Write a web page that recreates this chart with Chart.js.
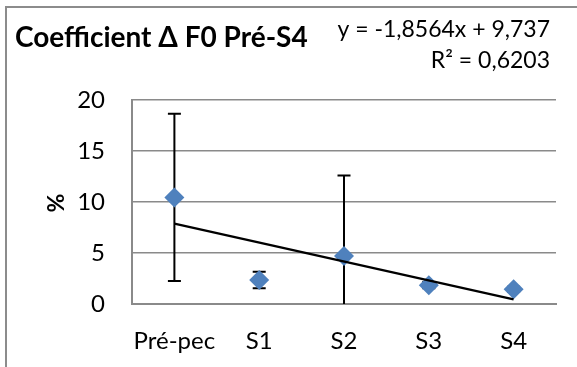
<!DOCTYPE html>
<html>
<head>
<meta charset="utf-8">
<script src="https://cdn.jsdelivr.net/npm/chart.js@4"></script>
<style>
  html, body { margin: 0; padding: 0; background: #fff; }
  #wrap { width: 577px; height: 367px; position: relative; }
</style>
</head>
<body>
<div id="wrap"><canvas id="chart" width="577" height="367"></canvas></div>
<script>
const categories = ['Pré-pec', 'S1', 'S2', 'S3', 'S4'];
const means = [10.45, 2.35, 4.7, 1.85, 1.45];
const errors = [8.2, 0.8, 7.9, 0.3, 0.25];

// linear trend (x = 1..5), as stated on the chart
const SLOPE = -1.8564;
const INTERCEPT = 9.737;
const R2 = 0.6203;

const FONT = 'Lato, "Open Sans", sans-serif';
const GRID = '#8a8a8a';

const fmt = (v) => String(v).replace('.', ',');
const trend = categories.map((c, i) =>
  (i === 0 || i === categories.length - 1) ? SLOPE * (i + 1) + INTERCEPT : null);

// frame, error bars, title and regression text
const decorPlugin = {
  id: 'decor',
  beforeDraw(chart) {
    const { ctx } = chart;
    ctx.save();
    ctx.strokeStyle = '#8c8c8c';
    ctx.lineWidth = 2;
    ctx.beginPath();
    ctx.moveTo(6, 367); ctx.lineTo(6, 7); ctx.lineTo(577, 7);
    ctx.stroke();
    ctx.restore();
  },
  beforeDatasetsDraw(chart) {
    const { ctx, chartArea: { left, top, right, bottom }, scales: { x, y } } = chart;
    ctx.save();
    ctx.beginPath();
    ctx.rect(left, top - 2, right - left, bottom - top + 2);
    ctx.clip();
    ctx.strokeStyle = '#000';
    ctx.lineWidth = 2;
    means.forEach((m, i) => {
      const px = x.getPixelForValue(i);
      const hi = y.getPixelForValue(m + errors[i]);
      const lo = y.getPixelForValue(m - errors[i]);
      ctx.beginPath();
      ctx.moveTo(px, hi); ctx.lineTo(px, lo);
      ctx.moveTo(px - 6.5, hi); ctx.lineTo(px + 6.5, hi);
      ctx.moveTo(px - 6.5, lo); ctx.lineTo(px + 6.5, lo);
      ctx.stroke();
    });
    ctx.restore();
  },
  afterDraw(chart) {
    const { ctx } = chart;
    ctx.save();
    ctx.fillStyle = '#000';
    ctx.textBaseline = 'alphabetic';

    ctx.font = 'bold 28px ' + FONT;
    ctx.textAlign = 'left';
    ctx.fillText('Coefficient Δ F0 Pré-S4', 15, 47);

    ctx.font = '23px ' + FONT;
    ctx.textAlign = 'right';
    ctx.fillText(`y = ${fmt(SLOPE)}x + ${fmt(INTERCEPT)}`, 550, 37);
    ctx.fillText(`R² = ${fmt(R2)}`, 550, 68);

    ctx.font = 'bold 23px ' + FONT;
    ctx.textAlign = 'center';
    ctx.textBaseline = 'middle';
    ctx.translate(57, 203);
    ctx.rotate(-Math.PI / 2);
    ctx.fillText('%', 0, 0);
    ctx.restore();
  },
};

new Chart(document.getElementById('chart'), {
  type: 'line',
  plugins: [decorPlugin],
  data: {
    labels: categories,
    datasets: [
      {
        label: 'Tendance',
        data: trend,
        spanGaps: true,
        borderColor: '#000',
        borderWidth: 2.2,
        pointRadius: 0,
        order: 0,
      },
      {
        label: 'Coefficient',
        data: means,
        showLine: false,
        pointStyle: 'rectRot',
        pointRadius: 10,
        pointBackgroundColor: '#4f81bd',
        pointBorderColor: '#4f81bd',
        pointBorderWidth: 0,
        order: 1,
      },
    ],
  },
  options: {
    responsive: false,
    animation: false,
    layout: { padding: { left: 0, top: 100, right: 21, bottom: 0 } },
    plugins: {
      legend: { display: false },
      tooltip: { enabled: false },
    },
    scales: {
      x: {
        offset: true,
        afterFit: (s) => { s.height = 63; },
        grid: { display: false, drawTicks: false },
        border: { display: true, color: GRID, width: 2 },
        ticks: { color: '#000', font: { family: FONT, size: 24 }, padding: 23, maxRotation: 0 },
      },
      y: {
        min: 0, max: 20,
        afterFit: (s) => { s.width = 132; },
        grid: { color: GRID, lineWidth: 1.5, drawTicks: false },
        border: { display: true, color: GRID, width: 2 },
        ticks: { stepSize: 5, color: '#000', font: { family: FONT, size: 24 }, padding: 27 },
      },
    },
  },
});
</script>
</body>
</html>
